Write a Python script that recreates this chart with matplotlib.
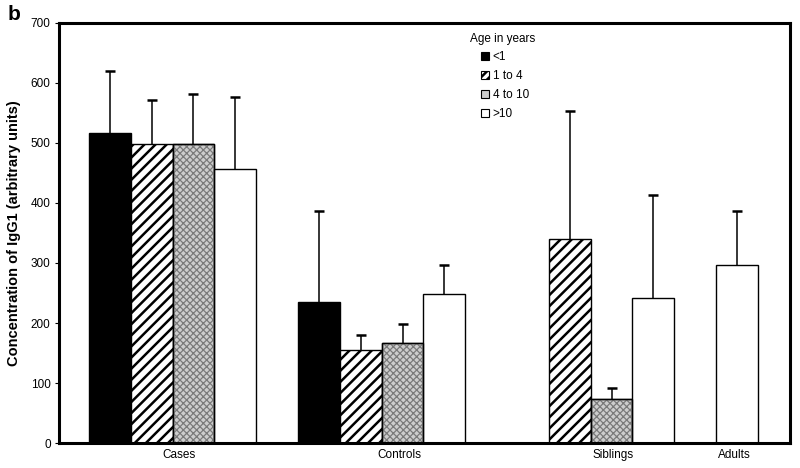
import numpy as np
import matplotlib
matplotlib.use("Agg")
import matplotlib.pyplot as plt
from matplotlib.patches import Patch

plt.rcParams['font.family'] = ['Liberation Sans', 'DejaVu Sans']
plt.rcParams['hatch.linewidth'] = 1.8

groups = ["Cases", "Controls", "Siblings", "Adults"]
series = ["<1", "1 to 4", "4 to 10", ">10"]
nan = np.nan
mean_lt1 = [516, 235, nan, nan]
mean_1_4 = [499, 155, 340, nan]
mean_4_10 = [499, 166, 74, nan]
mean_gt10 = [457, 249, 241, 296]
upper_lt1 = [620, 386, nan, nan]
upper_1_4 = [571, 180, 553, nan]
upper_4_10 = [581, 198, 92, nan]
upper_gt10 = [577, 296, 414, 387]
label_pos = [0.43, 1.483, 2.507, 3.09]
yticks = [0, 100, 200, 300, 400, 500, 600, 700]

means = [mean_lt1, mean_1_4, mean_4_10, mean_gt10]
uppers = [upper_lt1, upper_1_4, upper_4_10, upper_gt10]

fig = plt.figure(figsize=(8, 4.68), dpi=100)
ax = fig.add_axes([59/800, 1-443/468, (790-59)/800, (443-23)/468])

w = 0.2
GRAY_FACE = '#cdcdcd'
GRAY_DOT = '#7a7a7a'
styles = [
    dict(facecolor='black', hatch=None),
    dict(facecolor='white', hatch='///'),
    dict(facecolor=GRAY_FACE, hatch=None),
    dict(facecolor='white', hatch=None),
]

for k, (m, u) in enumerate(zip(means, uppers)):
    for g in range(len(groups)):
        if np.isnan(m[g]):
            continue
        slot = k
        # the single Adults bar sits in the first slot of its group
        if g == 3:
            slot = 0
        x = g + slot * w + w / 2
        st = styles[k]
        ax.bar(x, m[g], width=w, facecolor=st['facecolor'], edgecolor='black',
               hatch=st['hatch'], linewidth=1.0, zorder=2)
        if k == 2:
            with plt.rc_context({'hatch.linewidth': 0.9}):
                ax.bar(x, m[g], width=w, facecolor='none', edgecolor=GRAY_DOT,
                       hatch='xxxxx', linewidth=0, zorder=2.5)
            ax.bar(x, m[g], width=w, facecolor='none', edgecolor='black',
                   linewidth=1.0, zorder=2.6)
        ax.plot([x, x], [m[g], u[g]], color='black', lw=1.1, zorder=3, solid_capstyle='butt')
        ax.plot([x], [u[g]], marker='_', markersize=7, markeredgewidth=1.8,
                color='black', zorder=3)

ax.set_xlim(-0.1435, 3.354)
ax.set_ylim(0, 700)
ax.set_yticks(yticks)
ax.set_yticklabels([str(t) for t in yticks], fontsize=8.5)
ax.set_xticks(label_pos)
ax.set_xticklabels(groups, fontsize=8.5)
ax.tick_params(axis='x', length=0, pad=4)
ax.tick_params(axis='y', length=3, width=0.8, pad=3)
for s in ax.spines.values():
    s.set_linewidth(2.2)
    s.set_zorder(4)

ax.set_ylabel("Concentration of IgG1 (arbitrary units)", fontsize=10.5,
              fontweight='bold', labelpad=7)

fig.text(8/800, 1-20/468, "b", fontsize=15, fontweight='bold')

handles = []
for k in range(4):
    st = styles[k]
    handles.append(Patch(facecolor=st['facecolor'], edgecolor='black',
                         hatch=('////' if k == 1 else None),
                         linewidth=0.8))
leg = ax.legend(handles, series, loc='upper left',
                bbox_to_anchor=((481-59)/731, (443-51)/420),
                frameon=False, fontsize=8.5, handlelength=0.7, handleheight=0.7,
                handletextpad=0.3, labelspacing=0.6, borderpad=0, borderaxespad=0)
ax.text((470-59)/731, (443-39)/420, "Age in years", transform=ax.transAxes,
        fontsize=8.5, va='center', ha='left')

fig.savefig("out.png", dpi=100)
